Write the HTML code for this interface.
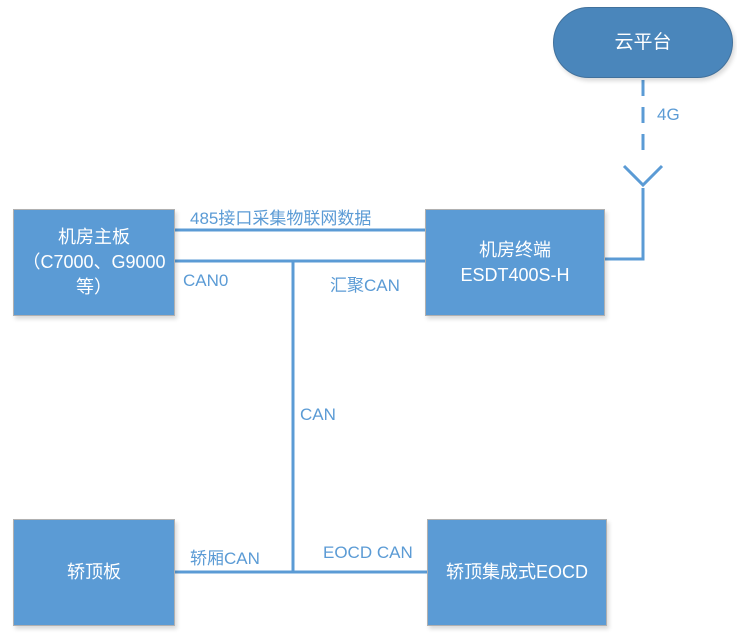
<!DOCTYPE html>
<html><head><meta charset="utf-8"><style>
body{margin:0;width:737px;height:636px;background:#fff;position:relative;overflow:hidden;font-family:"Liberation Sans","Noto Sans CJK SC",sans-serif}
.b{position:absolute;background:#5b9bd5;border:1px solid #b0b0b0;box-shadow:2px 3px 4px rgba(0,0,0,.15);color:#fff;font-size:18px;display:flex;align-items:center;justify-content:center;text-align:center;line-height:25px;box-sizing:border-box}
.l{position:absolute;color:#5b9bd5;font-size:17px;white-space:nowrap}
</style></head><body>
<svg width="737" height="636" style="position:absolute;left:0;top:0">
<g stroke="#5b9bd5" stroke-width="3" fill="none">
<line x1="175" y1="230" x2="425" y2="230"/>
<line x1="175" y1="261" x2="425" y2="261"/>
<line x1="293" y1="261" x2="293" y2="572"/>
<line x1="175" y1="572" x2="427" y2="572"/>
<polyline points="605,259 643,259 643,188"/>
<polyline points="624,166 643,185 662,166"/>
<line x1="643" y1="80" x2="643" y2="160" stroke-dasharray="16,11"/>
</g>
</svg>
<div class="b" style="left:553px;top:7px;width:180px;height:71px;border-radius:36px;background:#4a86bb;border:1px solid #41719c;font-size:19px">云平台</div>
<div class="b" style="left:13px;top:209px;width:162px;height:107px">机房主板<br>（C7000、G9000<br>等）</div>
<div class="b" style="left:425px;top:209px;width:180px;height:107px">机房终端<br>ESDT400S-H</div>
<div class="b" style="left:13px;top:519px;width:162px;height:107px">轿顶板</div>
<div class="b" style="left:427px;top:519px;width:180px;height:107px">轿顶集成式EOCD</div>
<div class="l" style="left:657px;top:105px">4G</div>
<div class="l" style="left:190px;top:204px">485接口采集物联网数据</div>
<div class="l" style="left:183px;top:271px">CAN0</div>
<div class="l" style="left:330px;top:271px">汇聚CAN</div>
<div class="l" style="left:300px;top:405px">CAN</div>
<div class="l" style="left:190px;top:544px">轿厢CAN</div>
<div class="l" style="left:323px;top:543px">EOCD CAN</div>
</body></html>
